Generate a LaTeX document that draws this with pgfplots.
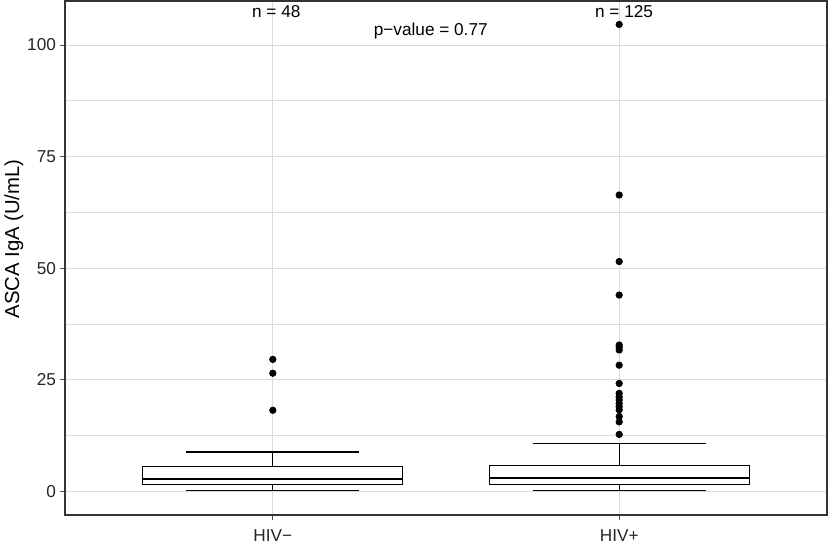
\documentclass[border=0pt]{standalone}
\usepackage{fontspec}
\setmainfont{Liberation Sans}
\usepackage{pgfplots}
\pgfplotsset{compat=1.18}

\begin{document}
\begin{tikzpicture}
\begin{axis}[
    name=ax,
    scale only axis,
    width=381pt, height=257pt,
    xmin=-0.6, xmax=1.6,
    ymin=-5.25, ymax=109.85,
    xtick={0,1},
    xticklabels={HIV−, HIV+},
    ytick={0,25,50,75,100},
    minor ytick={12.5,37.5,62.5,87.5},
    grid=both,
    major grid style={black!14, line width=0.45pt},
    minor grid style={black!14, line width=0.45pt},
    axis line style={black!80, line width=0.55pt},
    tick style={black!70, line width=0.45pt},
    tick align=outside,
    tick pos=left,
    major tick length=2.5pt,
    minor tick length=0pt,
    ticklabel style={font=\fontsize{8.6}{10}\selectfont, text=black!85},
    yticklabel style={xshift=1.5pt},
    xticklabel style={yshift=-1.5pt},
    /pgf/number format/assume math mode=true,
    ylabel={ASCA IgA (U/mL)},
    ylabel style={font=\fontsize{10.15}{12}\selectfont,
        at={([xshift=-25.6pt]axis description cs:0,0.537)}, anchor=center},
    line/.style={black, line width=0.55pt, no markers},
    dots/.style={black, only marks, mark=*, mark size=1.6pt},
]
% ---- HIV- (x = 0) ----
\addplot[line] coordinates {(0,5.55) (0,8.85)};
\addplot[line] coordinates {(0,1.6) (0,0.27)};
\addplot[line] coordinates {(-0.25,8.85) (0.25,8.85)};
\addplot[line] coordinates {(-0.25,0.27) (0.25,0.27)};
\addplot[line, fill=white] coordinates {(-0.375,1.6) (0.375,1.6) (0.375,5.55) (-0.375,5.55) (-0.375,1.6)} -- cycle;
\addplot[line, line width=1.2pt] coordinates {(-0.375,2.8) (0.375,2.8)};
\addplot[dots] coordinates {(0,29.6) (0,26.5) (0,18.2)};

% ---- HIV+ (x = 1) ----
\addplot[line] coordinates {(1,5.87) (1,10.8)};
\addplot[line] coordinates {(1,1.68) (1,0.27)};
\addplot[line] coordinates {(0.75,10.8) (1.25,10.8)};
\addplot[line] coordinates {(0.75,0.27) (1.25,0.27)};
\addplot[line, fill=white] coordinates {(0.625,1.68) (1.375,1.68) (1.375,5.87) (0.625,5.87) (0.625,1.68)} -- cycle;
\addplot[line, line width=1.2pt] coordinates {(0.625,3.1) (1.375,3.1)};
\addplot[dots] coordinates {
    (1,104.6) (1,66.4) (1,51.5) (1,44.0) (1,32.8) (1,32.3)
    (1,31.7) (1,28.3) (1,24.2) (1,22.0) (1,21.2) (1,20.5)
    (1,19.7) (1,19.0) (1,18.3) (1,16.8) (1,15.6) (1,12.8)
};

\node[font=\fontsize{8.6}{10}\selectfont] at (axis cs:0.01,107.4) {n = 48};
\node[font=\fontsize{8.6}{10}\selectfont] at (axis cs:1.014,107.4) {n = 125};
\node[font=\fontsize{8.6}{10}\selectfont] at (axis cs:0.456,103.2) {p−value = 0.77};
\end{axis}
\pgfresetboundingbox
\path[use as bounding box] ([xshift=-32.5pt,yshift=-15pt]ax.south west)
    rectangle ([xshift=0.5pt,yshift=0.5pt]ax.north east);
\end{tikzpicture}
\end{document}
